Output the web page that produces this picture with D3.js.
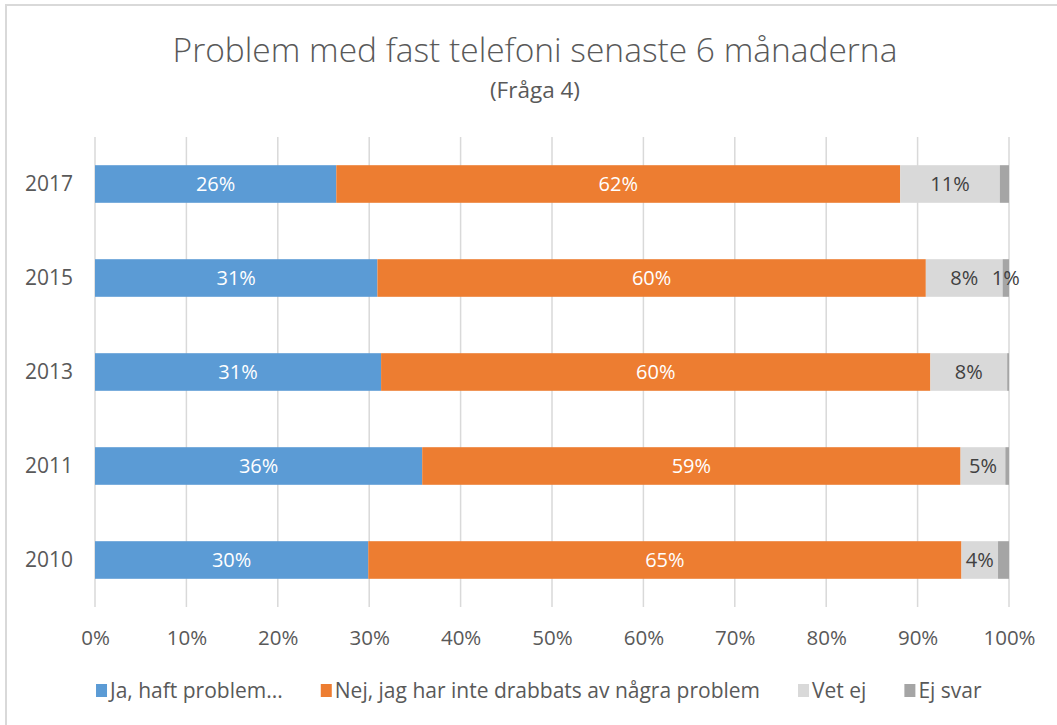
<!DOCTYPE html>
<html>
<head>
<meta charset="utf-8">
<script src="https://cdn.jsdelivr.net/npm/d3@7"></script>
<style>
  body { margin: 0; background: #fff; }
  svg { display: block; font-family: "Open Sans", "Noto Sans", sans-serif; }
</style>
</head>
<body>
<svg id="chart" width="1057" height="725"></svg>
<script>
// Survey answers per year, in percent of respondents
const years = ["2017", "2015", "2013", "2011", "2010"];
const seriesNames = [
  "Ja, haft problem...",
  "Nej, jag har inte drabbats av några problem",
  "Vet ej",
  "Ej svar"
];
const jaValues     = [26.4, 30.9, 31.3, 35.8, 29.9];
const nejValues    = [61.7, 60.0, 60.1, 58.9, 64.9];
const vetEjValues  = [10.9, 8.4, 8.4, 4.9, 4.0];
const ejSvarValues = [1.0, 0.7, 0.2, 0.4, 1.2];
const xTicks = [0, 10, 20, 30, 40, 50, 60, 70, 80, 90, 100];
// "Ej svar" is only labelled where the segment is wide enough to read
const ejSvarLabelYears = ["2015"];

const colors = ["#5B9BD5", "#ED7D31", "#D9D9D9", "#A5A5A5"];
const labelColors = ["#FFFFFF", "#FFFFFF", "#404040", "#404040"];
const textColor = "#595959";

const rows = years.map((year, i) => ({
  year,
  v0: jaValues[i], v1: nejValues[i], v2: vetEjValues[i], v3: ejSvarValues[i]
}));
const keys = ["v0", "v1", "v2", "v3"];
const stacked = d3.stack().keys(keys)(rows);

const svg = d3.select("#chart");

// Chart frame
svg.append("rect")
  .attr("x", 6).attr("y", 5)
  .attr("width", 1200).attr("height", 900)
  .attr("fill", "#fff")
  .attr("stroke", "#D9D9D9").attr("stroke-width", 2);

const x = d3.scaleLinear().domain([0, 100]).range([95, 1009]);
const y = d3.scaleBand().domain(years).range([137, 607])
  .paddingInner(0.6).paddingOuter(0.3);

// Title
svg.append("text")
  .attr("x", 535).attr("y", 62)
  .attr("text-anchor", "middle")
  .attr("fill", textColor)
  .attr("font-size", 33.5)
  .attr("font-weight", 300)
  .text("Problem med fast telefoni senaste 6 månaderna");
svg.append("text")
  .attr("x", 535).attr("y", 98)
  .attr("text-anchor", "middle")
  .attr("fill", textColor)
  .attr("font-size", 22.5)
  .text("(Fråga 4)");

// Vertical gridlines
svg.append("g")
  .selectAll("line")
  .data(xTicks)
  .join("line")
  .attr("x1", d => x(d)).attr("x2", d => x(d))
  .attr("y1", 137).attr("y2", 607)
  .attr("stroke", "#D9D9D9").attr("stroke-width", 1.5);

// Stacked bars
const layers = svg.append("g")
  .selectAll("g")
  .data(stacked)
  .join("g")
  .attr("fill", (d, i) => colors[i]);

layers.selectAll("rect")
  .data(d => d)
  .join("rect")
  .attr("x", d => x(d[0]))
  .attr("y", d => y(d.data.year))
  .attr("width", d => x(d[1]) - x(d[0]))
  .attr("height", y.bandwidth());

// Value labels
const labels = svg.append("g").attr("font-size", 20).attr("text-anchor", "middle");
stacked.forEach((layer, i) => {
  layer.forEach(d => {
    if (i === 3 && !ejSvarLabelYears.includes(d.data.year)) return;
    const v = d[1] - d[0];
    labels.append("text")
      .attr("x", x((d[0] + d[1]) / 2))
      .attr("y", y(d.data.year) + y.bandwidth() / 2 + 7)
      .attr("fill", labelColors[i])
      .text(d3.format(".0f")(v) + "%");
  });
});

// Axes
const xAxis = svg.append("g")
  .attr("transform", "translate(0,607)")
  .call(d3.axisBottom(x).tickValues(xTicks).tickFormat(d => d + "%").tickSize(0).tickPadding(23));
xAxis.select(".domain").remove();
xAxis.selectAll("text").attr("fill", textColor).attr("font-size", 20.5)
  .attr("font-family", "'Open Sans', sans-serif");

const yAxis = svg.append("g")
  .attr("transform", "translate(95,0)")
  .call(d3.axisLeft(y).tickSize(0).tickPadding(22));
yAxis.select(".domain").remove();
yAxis.selectAll("text").attr("fill", textColor).attr("font-size", 21)
  .attr("font-family", "'Open Sans', sans-serif");

// Legend
const legend = svg.append("g").attr("font-size", 21).attr("fill", textColor);
const items = legend.selectAll("g")
  .data(seriesNames)
  .join("g");
items.append("rect")
  .attr("y", 684).attr("width", 11).attr("height", 13)
  .attr("fill", (d, i) => colors[i]);
items.append("text")
  .attr("x", 14).attr("y", 698)
  .text(d => d);
let cursor = 0;
const gap = 38;
const widths = [];
items.each(function () { widths.push(this.getBBox().width); });
const total = d3.sum(widths) + gap * (widths.length - 1);
cursor = 539 - total / 2;
items.attr("transform", (d, i) => {
  const tx = cursor;
  cursor += widths[i] + gap;
  return `translate(${tx},0)`;
});
</script>
</body>
</html>
